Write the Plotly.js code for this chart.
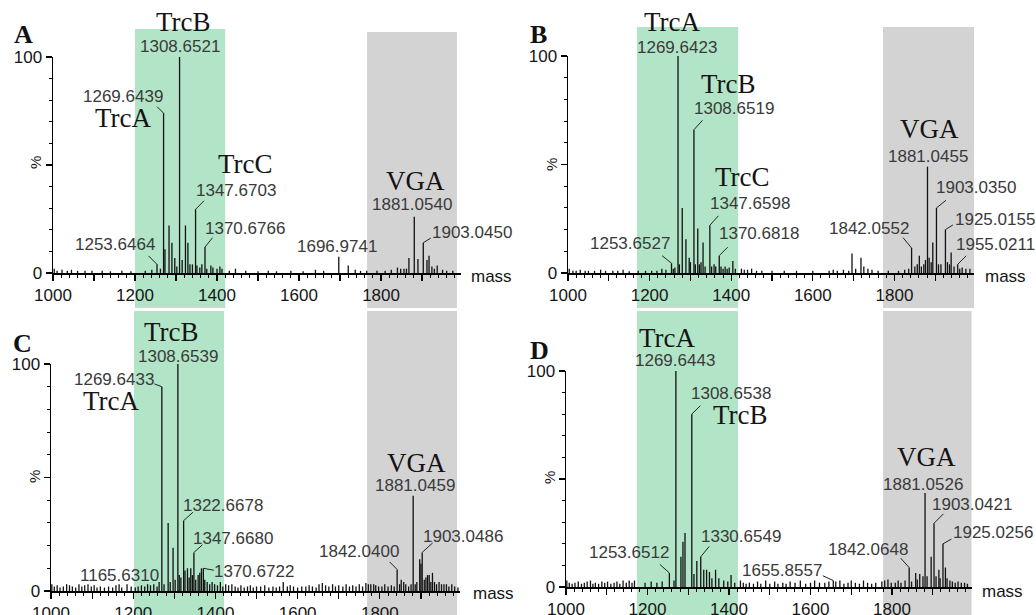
<!DOCTYPE html>
<html><head><meta charset="utf-8">
<script src="https://cdn.plot.ly/plotly-3.0.1.min.js"></script>
<style>html,body{margin:0;padding:0;background:#fff}</style>
</head><body><div id="chart" style="width:1036px;height:615px"></div>
<script>
// ---------------- DATA ----------------
// Panel A
const massA = [1003, 1010, 1022, 1035, 1045, 1060, 1078, 1095, 1120, 1140, 1168, 1190, 1225, 1241, 1253.6464, 1262, 1269.6439, 1273, 1283, 1290, 1297, 1302, 1308.6521, 1315, 1323, 1329, 1334, 1340, 1347.6703, 1351, 1358, 1363, 1370.6766, 1375, 1385, 1390, 1400, 1407, 1412, 1430, 1445, 1470, 1500, 1525, 1545, 1580, 1610, 1640, 1660, 1696.9741, 1720, 1737, 1750, 1765, 1790, 1810, 1825, 1840, 1848, 1856, 1862, 1868, 1881.0540, 1890, 1903.0450, 1912, 1917, 1924, 1930, 1937, 1950, 1960, 1975];
const intA = [2, 1, 1.5, 1, 1.5, 1, 1, 1, 1, 0.8, 1, 0.8, 1, 1.5, 4, 2, 74, 11, 22, 14, 7, 3, 100, 6, 22, 14, 4, 4, 29.5, 3.5, 2.5, 4, 12, 2, 3.5, 2.5, 2, 3, 2, 1, 2, 1, 0.8, 1, 0.8, 1, 0.8, 1.5, 1, 7.5, 3.5, 1.5, 1, 1, 1, 1, 1.5, 2.5, 2, 2, 2, 7, 26, 6.5, 14, 6, 8, 3, 2, 3.5, 1.5, 1, 1];
const labelsA = [1308.6521, 1269.6439, 1347.6703, 1370.6766, 1253.6464, 1696.9741, 1881.0540, 1903.0450];
const namesA = ['TrcB', 'TrcA', 'TrcC', 'VGA'];
const nameAtA = [1308.6521, 1269.6439, 1347.6703, 1881.0540];

// Panel B
const massB = [1003, 1012, 1020, 1030, 1042, 1050, 1065, 1080, 1092, 1110, 1122, 1135, 1150, 1172, 1190, 1205, 1218, 1230, 1240, 1253.6527, 1258, 1262, 1269.6423, 1273, 1280, 1289, 1297, 1300, 1308.6519, 1312, 1318, 1322, 1326, 1331, 1336, 1347.6598, 1352, 1358, 1362, 1370.6818, 1375, 1380, 1385, 1390, 1395, 1404, 1410, 1425, 1432, 1440, 1450, 1462, 1475, 1500, 1530, 1560, 1600, 1640, 1650, 1660, 1675, 1688, 1696, 1705, 1718, 1725, 1735, 1745, 1760, 1785, 1810, 1825, 1835, 1842.0552, 1850, 1856, 1861, 1866, 1872, 1876, 1881.0455, 1885, 1890, 1894, 1903.0350, 1908, 1914, 1925.0155, 1930, 1935, 1939, 1946, 1955.0211, 1960, 1966, 1975, 1985];
const intB = [2, 1, 1, 1.5, 1, 1, 1, 1.5, 1, 1, 1, 1.5, 0.8, 1, 1, 1, 1, 2, 1.5, 4.5, 2, 2.5, 100, 4, 30, 15.5, 7, 5, 66, 4, 20.5, 4, 5, 14, 3, 22, 3, 4, 3, 8, 3, 2, 3, 2, 2.5, 5.5, 2, 2, 1.5, 1.5, 2, 1, 1, 1, 1, 1, 1, 1, 1.5, 1, 1.5, 1, 9, 2, 7, 3, 2, 1.5, 1, 1, 1, 1.5, 2, 11.5, 3, 4, 8, 3, 4, 6, 49, 7, 5, 14, 30, 4, 4, 20, 5, 4, 9.5, 3, 4, 2, 2.5, 2, 2];
const labelsB = [1269.6423, 1308.6519, 1347.6598, 1370.6818, 1253.6527, 1842.0552, 1881.0455, 1903.0350, 1925.0155, 1955.0211];
const namesB = ['TrcA', 'TrcB', 'TrcC', 'VGA'];
const nameAtB = [1269.6423, 1308.6519, 1347.6598, 1881.0455];

// Panel C
const massC = [1002, 1008, 1015, 1022, 1030, 1038, 1045, 1052, 1060, 1068, 1075, 1082, 1090, 1098, 1105, 1112, 1120, 1130, 1140, 1150, 1158, 1165.6310, 1172, 1185, 1195, 1205, 1212, 1220, 1228, 1235, 1242, 1250, 1258, 1263, 1269.6433, 1275, 1285, 1290, 1297, 1302, 1308.6539, 1312, 1316, 1322.6678, 1326, 1332, 1336, 1340, 1344, 1347.6680, 1352, 1358, 1362, 1366, 1370.6722, 1374, 1380, 1386, 1392, 1398, 1405, 1412, 1418, 1425, 1432, 1440, 1448, 1455, 1462, 1470, 1478, 1485, 1492, 1500, 1510, 1520, 1530, 1540, 1548, 1556, 1565, 1575, 1582, 1590, 1600, 1610, 1620, 1628, 1636, 1645, 1652, 1660, 1668, 1676, 1685, 1692, 1700, 1710, 1718, 1726, 1734, 1742, 1750, 1758, 1766, 1772, 1778, 1785, 1790, 1797, 1805, 1812, 1820, 1828, 1835, 1842.0400, 1848, 1852, 1858, 1863, 1870, 1876, 1881.0459, 1886, 1890, 1897, 1900, 1903.0486, 1908, 1912, 1916, 1920, 1924, 1928, 1933, 1938, 1944, 1950, 1956, 1962, 1968, 1975, 1982, 1990];
const intC = [3, 2, 2.5, 1.5, 2, 3, 2.5, 2, 1.5, 3, 2, 2.5, 3, 2, 2.5, 1.5, 2, 1.5, 2, 1.5, 2.5, 3, 1.5, 3, 2, 1.5, 2, 2.5, 2, 3, 2.5, 3, 2, 4, 90, 3, 30, 4, 19, 5, 100, 7, 6, 31, 9, 10, 6, 10, 7, 17, 5, 7, 8, 10, 10, 5, 4, 3, 4, 3, 2.5, 4, 2, 3, 2.5, 3, 2, 1.5, 2.5, 1.5, 2, 2.5, 1.5, 2, 2, 2.5, 1.5, 2, 1.5, 2, 4, 2, 2.5, 2, 1.5, 2, 2, 2.5, 2, 1.5, 3, 3.5, 2.5, 2, 3, 2, 2.5, 2, 3, 2, 2.5, 2, 3, 2, 3.5, 3, 3, 3, 2.5, 2, 2, 3, 2, 2.5, 2, 9.5, 3, 5, 4, 3, 2, 3, 42, 3, 4, 14, 12, 17, 5, 6, 7, 7, 4, 8, 4, 3, 4, 3, 3, 3, 2, 3, 2, 1.5];
const labelsC = [1308.6539, 1269.6433, 1322.6678, 1347.6680, 1370.6722, 1165.6310, 1881.0459, 1842.0400, 1903.0486];
const namesC = ['TrcB', 'TrcA', 'VGA'];
const nameAtC = [1308.6539, 1269.6433, 1881.0459];

// Panel D
const massD = [1002, 1008, 1015, 1022, 1030, 1038, 1045, 1052, 1060, 1066, 1072, 1080, 1088, 1095, 1102, 1110, 1118, 1125, 1132, 1140, 1148, 1155, 1162, 1168, 1194, 1209, 1223, 1236, 1253.6512, 1265, 1269.6443, 1282, 1287, 1292, 1308.6538, 1314, 1321, 1330.6549, 1338, 1345, 1352, 1358, 1367, 1375, 1387, 1397, 1405, 1414, 1428, 1435, 1442, 1450, 1460, 1470, 1478, 1490, 1500, 1512, 1520, 1532, 1540, 1550, 1562, 1575, 1588, 1600, 1610, 1622, 1635, 1645, 1655.8557, 1662, 1672, 1682, 1692, 1700, 1710, 1720, 1730, 1740, 1750, 1760, 1775, 1782, 1790, 1798, 1808, 1815, 1822, 1832, 1842.0648, 1848, 1858, 1862, 1868, 1876, 1881.0526, 1886, 1896, 1903.0421, 1908, 1915, 1918, 1925.0256, 1931, 1935, 1942, 1948, 1955, 1962, 1970, 1978, 1985];
const intD = [3, 2, 1.5, 2, 2.5, 1.5, 2, 2.5, 3, 1.5, 2, 1.5, 2.5, 2, 2.5, 1.5, 2, 2.5, 1.5, 3, 2, 3, 2, 3, 2, 2.5, 2, 2.5, 6.5, 3, 100, 14, 21, 25, 80, 6, 12, 14, 8, 8, 7, 4, 8, 4, 3, 2.5, 5.5, 2, 3, 2, 1.5, 2, 1.5, 2.5, 1.5, 3, 1.5, 2.5, 1.5, 2, 1.5, 2.5, 2, 3, 1.5, 2, 3, 2, 2, 2.5, 3, 2.5, 3, 1.5, 2, 3, 2, 1.5, 3, 2, 1.5, 2, 2.5, 3, 3.5, 2, 2, 3, 2, 3, 9, 2.5, 6.5, 3.5, 6, 5, 43.5, 5, 14, 29.5, 5, 8, 4, 20, 9, 4, 3, 2.5, 2, 2.5, 2, 2, 1.5];
const labelsD = [1269.6443, 1308.6538, 1330.6549, 1253.6512, 1655.8557, 1842.0648, 1881.0526, 1903.0421, 1925.0256];
const namesD = ['TrcA', 'TrcB', 'VGA'];
const nameAtD = [1269.6443, 1308.6538, 1881.0526];

const panelLetters = ['A', 'B', 'C', 'D'];
const xTickVals = [1000, 1100, 1200, 1300, 1400, 1500, 1600, 1700, 1800, 1900];
const xTickText = ['1000', '', '1200', '', '1400', '', '1600', '', '1800', ''];
const yTickVals = [0, 50, 100];
const yTickText = ['0', '', '100'];

// ---------------- LAYOUT / PLACEMENT (pixels) ----------------
const W = 1036, H = 615;
// text offsets [dx, dy, leaderDx, leaderDy] relative to peak top, in px
const placeA = {lab: [[0,-10],[-41,-17,-7,-7],[40,-19,9,-9],[40,-19,8,-10],[-42,-20,-9,-9],[-2,-10],[-2,-12],[49,-10,8,-5]],
                nam: [[4,-35],[-40,5],[50,-45],[1,-36]]};
const placeB = {lab: [[-1,-9],[40,-21,9,-10],[40,-22,9,-10],[40,-22,9,-9],[-42,-20,-10,-8],[-43,-20,-9,-11],[0,-10],[40,-20,10,-8],[50,-10,8,-5],[38,-20,9,-9]],
                nam: [[-6,-34],[35,-46],[33,-48],[2,-38]]};
const placeC = {lab: [[0,-8],[-48,-7,-8,-3],[39,-15,10,-9],[39,-14,9,-8],[51,3,11,2],[0,-9],[2,-10],[-38,-18,-8,-8],[41,-16,11,-10]],
                nam: [[-6,-32],[-50,14],[3,-33]]};
const placeD = {lab: [[-1,-11],[39,-21,9,-9],[40,-20,9,-11],[-40,-20,-10,-9],[-51,-10,-11,-5],[-41,-18,-9,-10],[-2,-9],[38,-19,10,-10],[50,-11,9,-5]],
                nam: [[-8,-33],[49,1],[1,-36]]};

const geom = [
  {x:[53,461], y:[57,273], green:[1200,1420,29,308], gray:[1766,1985,32,308], letter:[23,35], pct:[36,163], mass:[491,276]},
  {x:[568,974], y:[56,273], green:[1169,1417,27,308], gray:[1772,1997,27,308], letter:[538,34], pct:[551,165], mass:[1005,276]},
  {x:[51,460], y:[364,591], green:[1202,1421,311,615], gray:[1769,1988,311,615], letter:[22,343], pct:[34,477], mass:[493,593]},
  {x:[566,971.5], y:[371,587], green:[1174,1422,311,615], gray:[1778,2004,311,615], letter:[539,350], pct:[549,478], mass:[1002,591]}
];

const panels = [
  {mass:massA, inten:intA, labels:labelsA, names:namesA, nameAt:nameAtA, place:placeA},
  {mass:massB, inten:intB, labels:labelsB, names:namesB, nameAt:nameAtB, place:placeB},
  {mass:massC, inten:intC, labels:labelsC, names:namesC, nameAt:nameAtC, place:placeC},
  {mass:massD, inten:intD, labels:labelsD, names:namesD, nameAt:nameAtD, place:placeD}
];

const px2x = p => p / W;
const py2y = p => 1 - p / H;

const traces = [], annotations = [], shapes = [];
const layout = {
  width: W, height: H, margin: {l:0, r:0, t:0, b:0},
  paper_bgcolor: '#fff', plot_bgcolor: 'rgba(0,0,0,0)', showlegend: false,
  annotations: annotations, shapes: shapes
};

const minorX = [];
for (let v = 1000; v <= 1990; v += 20) if (v % 100 !== 0) minorX.push(v);
const minorY = [10, 20, 30, 40, 60, 70, 80, 90];

const labFont = {family: 'Liberation Sans, Arial, sans-serif', size: 17, color: '#3a3a3a'};
const nameFont = {family: 'Liberation Serif, Times New Roman, serif', size: 27, color: '#141414'};

panels.forEach((p, k) => {
  const g = geom[k];
  const xa = k === 0 ? 'x' : 'x' + (k + 1);
  const ya = k === 0 ? 'y' : 'y' + (k + 1);
  const xs = [], ys = [];
  p.mass.forEach((m, i) => { xs.push(m, m, null); ys.push(0, p.inten[i], null); });
  traces.push({type:'scatter', mode:'lines', x:xs, y:ys, xaxis:xa, yaxis:ya,
               line:{color:'#111', width:1.3}, hoverinfo:'skip', cliponaxis:true});

  const axKey = k === 0 ? 'xaxis' : 'xaxis' + (k + 1);
  const ayKey = k === 0 ? 'yaxis' : 'yaxis' + (k + 1);
  layout[axKey] = {
    domain:[px2x(g.x[0]), px2x(g.x[1])], range:[1000, 1995], anchor: ya,
    showline:true, linecolor:'#000', linewidth:1.5, showgrid:false, zeroline:false,
    ticks:'outside', ticklen:6, tickwidth:1.2, tickcolor:'#000',
    tickmode:'array', tickvals:xTickVals, ticktext:xTickText,
    tickfont:{family:'Liberation Sans, Arial, sans-serif', size:17, color:'#151515'},
    minor:{tickmode:'array', tickvals:minorX, ticks:'outside', ticklen:3, tickwidth:1, tickcolor:'#000', showgrid:false},
    fixedrange:true
  };
  layout[ayKey] = {
    domain:[py2y(g.y[1]), py2y(g.y[0])], range:[0, 100], anchor: xa,
    showline:true, linecolor:'#000', linewidth:1.5, showgrid:false, zeroline:false,
    ticks:'outside', ticklen:6, tickwidth:1.2, tickcolor:'#000',
    tickmode:'array', tickvals:yTickVals, ticktext:yTickText,
    tickfont:{family:'Liberation Sans, Arial, sans-serif', size:17, color:'#151515'},
    minor:{tickmode:'array', tickvals:minorY, ticks:'outside', ticklen:3, tickwidth:1, tickcolor:'#000', showgrid:false},
    fixedrange:true
  };

  // bands
  shapes.push({type:'rect', layer:'below', xref:xa, yref:'paper', x0:g.green[0], x1:g.green[1],
               y0:py2y(g.green[3]), y1:py2y(g.green[2]), fillcolor:'#b2e5c8', line:{width:0}});
  shapes.push({type:'rect', layer:'below', xref:xa, yref:'paper', x0:g.gray[0], x1:g.gray[1],
               y0:py2y(g.gray[3]), y1:py2y(g.gray[2]), fillcolor:'#d4d3d4', line:{width:0}});

  const heightOf = m => p.inten[p.mass.indexOf(m)];

  // peak labels
  p.labels.forEach((m, i) => {
    const pl = p.place.lab[i];
    const h = heightOf(m);
    annotations.push({xref:xa, yref:ya, x:m, y:h, text:m.toFixed(4), showarrow:false,
      xanchor:'center', yanchor:'middle', xshift:pl[0], yshift:-pl[1], font:labFont});
    if (pl.length > 2) {
      annotations.push({xref:xa, yref:ya, x:m, y:h, text:' ', showarrow:true, arrowhead:0,
        arrowwidth:1, arrowcolor:'#222', ax:pl[2], ay:pl[3], font:{size:1}, borderpad:0, standoff:0});
    }
  });
  // compound names
  p.names.forEach((nm, i) => {
    const m = p.nameAt[i];
    const pl = p.place.nam[i];
    annotations.push({xref:xa, yref:ya, x:m, y:heightOf(m), text:nm, showarrow:false,
      xanchor:'center', yanchor:'middle', xshift:pl[0], yshift:-pl[1], font:nameFont});
  });
  // panel letter
  annotations.push({xref:'paper', yref:'paper', x:px2x(g.letter[0]), y:py2y(g.letter[1]),
    text:'<b>' + panelLetters[k] + '</b>', showarrow:false, xanchor:'center', yanchor:'middle',
    font:{family:'Liberation Serif, Times New Roman, serif', size:26, color:'#111'}});
  // % label
  annotations.push({xref:'paper', yref:'paper', x:px2x(g.pct[0]), y:py2y(g.pct[1]),
    text:'%', textangle:-90, showarrow:false, xanchor:'center', yanchor:'middle',
    font:{family:'Liberation Sans, Arial, sans-serif', size:15, color:'#151515'}});
  // mass label
  annotations.push({xref:'paper', yref:'paper', x:px2x(g.mass[0]), y:py2y(g.mass[1]),
    text:'mass', showarrow:false, xanchor:'center', yanchor:'middle',
    font:{family:'Liberation Sans, Arial, sans-serif', size:17, color:'#151515'}});
});

Plotly.newPlot('chart', traces, layout, {staticPlot:true, displayModeBar:false});
</script>
</body></html>
